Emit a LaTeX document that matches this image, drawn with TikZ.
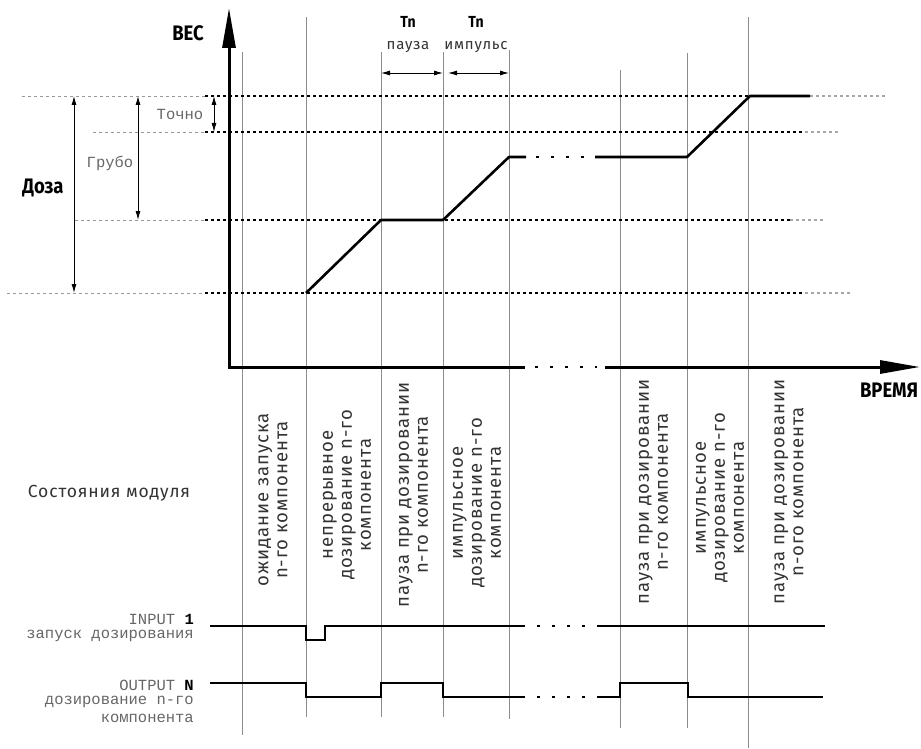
\documentclass[tikz,border=0pt]{standalone}
\usepackage{fontspec}
\setmainfont{Fira Sans}
\newfontfamily\headf[FakeStretch=0.88]{Fira Sans}
\newfontfamily\labf[LetterSpace=5]{Fira Sans}
\newfontfamily\statef[LetterSpace=5]{Fira Sans}
\newfontfamily\monof{Liberation Mono}
\usetikzlibrary{arrows.meta}
\begin{document}
\begin{tikzpicture}[x=1pt,y=-1pt,
  axis/.style={line width=3pt},
  axistip/.style={-{Triangle[length=40pt,width=13pt]}},
  col/.style={line width=0.8pt,black!45},
  lvlgray/.style={line width=0.7pt,black!40,dash pattern=on 3pt off 3pt},
  lvlblack/.style={line width=1.6pt,black,dash pattern=on 3pt off 3pt},
  lvlfade/.style={line width=1.2pt,black!35,dash pattern=on 3pt off 3pt},
  weight/.style={line width=2.6pt},
  sig/.style={line width=1.8pt},
  brk/.style={line width=2.6pt,dash pattern=on 3pt off 12pt},
  sbrk/.style={line width=1.8pt,dash pattern=on 3pt off 12pt},
  dim/.style={line width=0.9pt,{Latex[length=9pt,width=5pt]}-{Latex[length=9pt,width=5pt]}},
  head/.style={font=\headf\bfseries\fontsize{21}{24}\selectfont},
  tn/.style={font=\headf\bfseries\fontsize{16}{19}\selectfont},
  small/.style={font=\labf\fontsize{15}{18}\selectfont,text=black!80},
  mono/.style={font=\monof\fontsize{15.5}{17}\selectfont,text=black!60,inner sep=0pt},
  state/.style={font=\statef\fontsize{18.5}{19}\selectfont,text=black!80,rotate=90,align=center,inner sep=0pt}]
\useasboundingbox (0,0) rectangle (921,749);

% column lines
\draw[col] (242,52) -- (242,735);
\draw[col] (306,17) -- (306,717);
\draw[col] (381,52) -- (381,717);
\draw[col] (443,52) -- (443,717);
\draw[col] (509,50) -- (509,719);
\draw[col] (620,70) -- (620,728);
\draw[col] (687,53) -- (687,728);
\draw[col] (748,17) -- (748,748);

% level lines
\draw[lvlgray] (22,96) -- (205,96);
\draw[lvlblack] (205,96) -- (750,96);
\draw[lvlfade] (810,96) -- (887,96);
\draw[lvlgray] (93,132) -- (205,132);
\draw[lvlblack] (205,132) -- (805,132);
\draw[lvlfade] (805,132) -- (840,132);
\draw[lvlgray] (75,220) -- (205,220);
\draw[lvlblack] (205,220) -- (790,220);
\draw[lvlfade] (790,220) -- (823,220);
\draw[lvlgray] (7,293) -- (205,293);
\draw[lvlblack] (205,293) -- (805,293);
\draw[lvlfade] (805,293) -- (850,293);

% axes
\draw[axis,{Triangle[length=40pt,width=13pt]}-] (229,8) -- (229,367) -- (525,367);
\draw[brk] (535,367) -- (597,367);
\draw[axis,axistip] (605,367) -- (920,367);

% weight curve
\draw[weight,line join=round] (306,293) -- (381,220) -- (443,220) -- (509,157) -- (526,157);
\draw[brk] (536,157) -- (590,157);
\draw[weight,line join=round] (595,157) -- (687,157) -- (750,96) -- (810,96);

% dimension arrows
\coordinate (d1) at (74,96); \coordinate (d2) at (74,293);
\draw[dim] (d1) -- (d2);
\coordinate (g1) at (138,96); \coordinate (g2) at (138,220);
\draw[dim] (g1) -- (g2);
\coordinate (t1) at (214,96); \coordinate (t2) at (214,132);
\draw[dim] (t1) -- (t2);
\coordinate (p1) at (381,73); \coordinate (p2) at (443,73);
\draw[dim] (p1) -- (p2);
\coordinate (i1) at (448,73); \coordinate (i2) at (509,73);
\draw[dim] (i1) -- (i2);

% labels
\node[head] (ves) at (188,33) {ВЕС};
\node[head] (time) at (889,390) {ВРЕМЯ};
\node[head] (doza) at (43,188) {Доза};
\node[mono] (grubo) at (110,163) {Грубо};
\node[mono] (tochno) at (180,114) {Точно};
\node[tn] (tn1) at (408,22) {Tn};
\node[small] (pause) at (408,47) {пауза};
\node[tn] (tn2) at (476,22) {Tn};
\node[small] (imp) at (476,47) {импульс};

\node[font=\labf\fontsize{17.5}{20}\selectfont,text=black!80] (states) at (109,493) {Состояния модуля};

\node[state] (s1) at (273,500) {ожидание запуска\\n-го компонента};
\node[state] (s2) at (347,495) {непрерывное\\дозирование n-го\\компонента};
\node[state] (s3) at (413.5,495) {пауза при дозировании\\n-го компонента};
\node[state] (s4) at (477,503) {импульсное\\дозирование n-го\\компонента};
\node[state] (s6) at (653.5,492) {пауза при дозировании\\n-го компонента};
\node[state] (s7) at (720,498) {импульсное\\дозирование n-го\\компонента};
\node[state] (s8) at (789,492) {пауза при дозировании\\n-ого компонента};

\node[mono,anchor=east] (in1) at (194,619) {INPUT \textcolor{black}{\bfseries 1}};
\node[mono,anchor=east] (in2) at (194,636) {запуск дозирования};
\node[mono,anchor=east] (out1) at (194,685) {OUTPUT \textcolor{black}{\bfseries N}};
\node[mono,anchor=east] (out2) at (194,702) {дозирование n-го};
\node[mono,anchor=east] (out3) at (194,718) {компонента};

% signals
\draw[sig] (210,626) -- (306,626) -- (306,640) -- (325,640) -- (325,626) -- (525,626);
\draw[sbrk] (537,626) -- (590,626);
\draw[sig] (597,626) -- (825,626);
\draw[sig] (210,683) -- (306,683) -- (306,697) -- (381,697) -- (381,683) -- (443,683) -- (443,697) -- (525,697);
\draw[sbrk] (537,697) -- (590,697);
\draw[sig] (597,697) -- (620,697) -- (620,683) -- (688,683) -- (688,697) -- (823,697);
\end{tikzpicture}
\end{document}
